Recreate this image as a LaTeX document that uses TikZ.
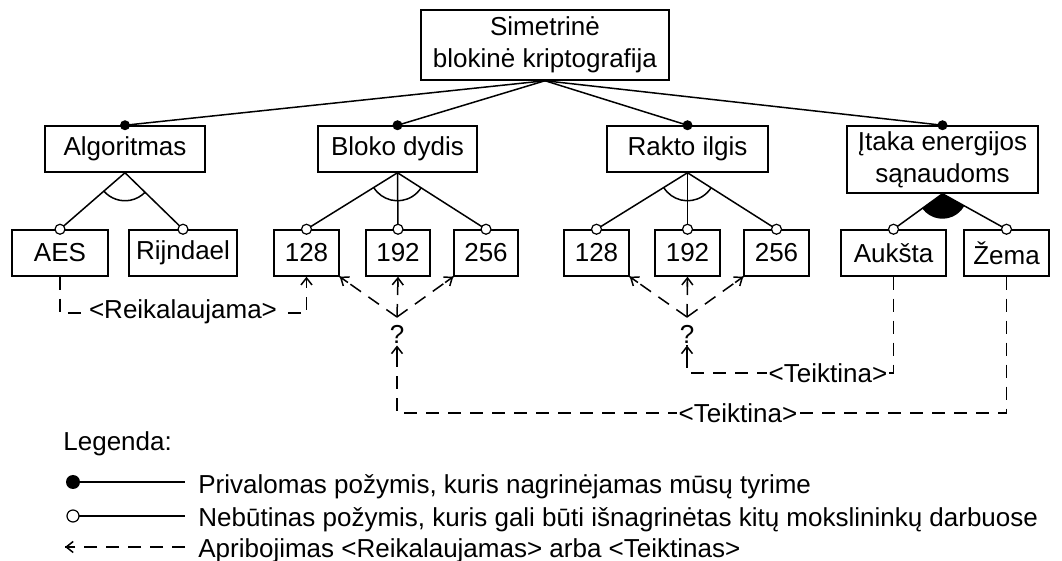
\documentclass[tikz,border=0pt]{standalone}
\usepackage{fontspec}
\setmainfont{Liberation Sans}
\usetikzlibrary{arrows.meta,calc}
\newcommand{\diafont}{\fontsize{13pt}{16pt}\selectfont}
\newcommand{\tipto}[2]{\draw[tipline] ($(#2)!5pt!(#1)$) -- (#2);}
\begin{document}
\begin{tikzpicture}[x=0.5pt,y=0.5pt,
  box/.style={draw, line width=0.75pt, inner sep=0pt, align=center, font=\diafont, minimum height=23pt},
  lbl/.style={font=\diafont, inner sep=1pt},
  tag/.style={font=\diafont, inner sep=1pt, fill=white},
  edge/.style={line width=0.75pt},
  cons/.style={line width=0.75pt, dash pattern=on 6.5pt off 4.5pt},
  tipline/.style={line width=0.75pt, solid, -{Straight Barb[length=3.5pt,width=5.5pt]}},
  mand/.style={fill=black},
  opt/.style={draw, fill=white, line width=0.6pt},
  legtext/.style={font=\diafont, anchor=base west, inner xsep=6.5pt, inner ysep=0pt}
]
\useasboundingbox (0,0) rectangle (1062,-561);

% feature nodes
\node[box, minimum width=124pt, minimum height=35pt] (root) at (545,-45) {Simetrinė\\blokinė kriptografija};
\node[box, minimum width=80pt] (alg) at (125,-149) {Algoritmas};
\node[box, minimum width=79.5pt] (blk) at (397.5,-149) {Bloko dydis};
\node[box, minimum width=80.5pt] (rak) at (687.5,-149) {Rakto ilgis};
\node[box, minimum width=95.5pt, minimum height=33.5pt] (en) at (942.5,-159.5) {Įtaka energijos\\sąnaudoms};

\node[box, minimum width=48pt] (aes) at (60,-253) {AES};
\node[box, minimum width=54pt] (rij) at (183,-253) {Rijndael};
\node[box, minimum width=32.5pt] (b128) at (306.5,-253) {128};
\node[box, minimum width=32pt] (b192) at (398,-253) {192};
\node[box, minimum width=32pt] (b256) at (486,-253) {256};
\node[box, minimum width=32.5pt] (r128) at (596.5,-253) {128};
\node[box, minimum width=32.5pt] (r192) at (687.5,-253) {192};
\node[box, minimum width=32.5pt] (r256) at (776.5,-253) {256};
\node[box, minimum width=52.5pt] (auk) at (893.5,-253) {Aukšta};
\node[box, minimum width=42.5pt] (zem) at (1006.5,-253) {Žema};

% root edges
\foreach \p in {alg,blk,rak,en}{
  \draw[edge] (root.south) -- (\p.north);
}
% child edges
\draw[edge] (alg.south) -- (aes.north);
\draw[edge] (alg.south) -- (rij.north);
\foreach \c in {b128,b192,b256}{ \draw[edge] (blk.south) -- (\c.north); }
\foreach \c in {r128,r192,r256}{ \draw[edge] (rak.south) -- (\c.north); }
\draw[edge] (en.south) -- (auk.north);
\draw[edge] (en.south) -- (zem.north);

% group arcs
\draw[edge] let \p1=($(aes.north)-(alg.south)$), \p2=($(rij.north)-(alg.south)$),
  \n1={atan2(\y1,\x1)}, \n2={atan2(\y2,\x2)} in
  ($(alg.south)+(\n1:14pt)$) arc[start angle=\n1, end angle=\n2, radius=14pt];
\draw[edge] let \p1=($(b128.north)-(blk.south)$), \p2=($(b256.north)-(blk.south)$),
  \n1={atan2(\y1,\x1)}, \n2={atan2(\y2,\x2)} in
  ($(blk.south)+(\n1:14pt)$) arc[start angle=\n1, end angle=\n2, radius=14pt];
\draw[edge] let \p1=($(r128.north)-(rak.south)$), \p2=($(r256.north)-(rak.south)$),
  \n1={atan2(\y1,\x1)}, \n2={atan2(\y2,\x2)} in
  ($(rak.south)+(\n1:14pt)$) arc[start angle=\n1, end angle=\n2, radius=14pt];
\fill let \p1=($(auk.north)-(en.south)$), \p2=($(zem.north)-(en.south)$),
  \n1={atan2(\y1,\x1)}, \n2={atan2(\y2,\x2)} in
  (en.south) -- ($(en.south)+(\n1:12.5pt)$) arc[start angle=\n1, end angle=\n2, radius=12.5pt] -- cycle;

% mandatory dots and optional circles
\foreach \p in {alg,blk,rak,en}{ \fill[mand] (\p.north) circle (2.5pt); }
\foreach \c in {aes,rij,b128,b192,b256,r128,r192,r256,auk,zem}{ \draw[opt] (\c.north) circle (2.5pt); }

% constraints
\node[lbl] (qb) at (397,-334) {?};
\node[lbl] (qr) at (687,-334) {?};
\coordinate (qbt) at (397,-317);
\coordinate (qrt) at (687,-317);
\draw[cons] (qbt) -- (b128.south east); \tipto{qbt}{b128.south east}
\draw[cons] (qbt) -- (b192.south);      \tipto{qbt}{b192.south}
\draw[cons] (qbt) -- (b256.south west); \tipto{qbt}{b256.south west}
\draw[cons] (qrt) -- (r128.south east); \tipto{qrt}{r128.south east}
\draw[cons] (qrt) -- (r192.south);      \tipto{qrt}{r192.south}
\draw[cons] (qrt) -- (r256.south west); \tipto{qrt}{r256.south west}

\coordinate (ra) at (60,-313);
\coordinate (rb) at (306.5,-313);
\draw[cons] (aes.south) -- (aes.south |- ra) -- (rb) -- (b128.south);
\tipto{rb}{b128.south}
\node[tag] (treik) at (183,-312) {<Reikalaujama>};

\coordinate (ur) at (687,-373);
\draw[cons] (auk.south) -- (auk.south |- ur) -- (ur) -- (qr.south);
\tipto{ur}{qr.south}
\node[tag] (tteik1) at (828,-373) {<Teiktina>};

\coordinate (lb) at (397,-413);
\draw[cons] (zem.south) -- (zem.south |- lb) -- (lb) -- (qb.south);
\tipto{lb}{qb.south}
\node[tag] (tteik2) at (738,-413) {<Teiktina>};

% legend
\node[font=\diafont, anchor=base west, inner sep=0pt] (leg) at (63,-451) {Legenda:};
\coordinate (l1) at (73,-482);
\coordinate (l2) at (73,-516);
\coordinate (l3) at (65,-547);
\node[legtext] (t1) at (185,-494) {Privalomas požymis, kuris nagrinėjamas mūsų tyrime};
\node[legtext] (t2) at (185,-527) {Nebūtinas požymis, kuris gali būti išnagrinėtas kitų mokslininkų darbuose};
\node[legtext] (t3) at (185,-558) {Apribojimas <Reikalaujamas> arba <Teiktinas>};
\draw[edge] (l1) -- (l1 -| t1.west);
\fill[mand] (l1) circle (3.5pt);
\draw[edge] (l2) -- (l2 -| t2.west);
\draw[opt] (l2) circle (3pt);
\draw[cons] (l3 -| t3.west) -- (l3);
\tipto{t3.west |- l3}{l3}
\end{tikzpicture}
\end{document}
